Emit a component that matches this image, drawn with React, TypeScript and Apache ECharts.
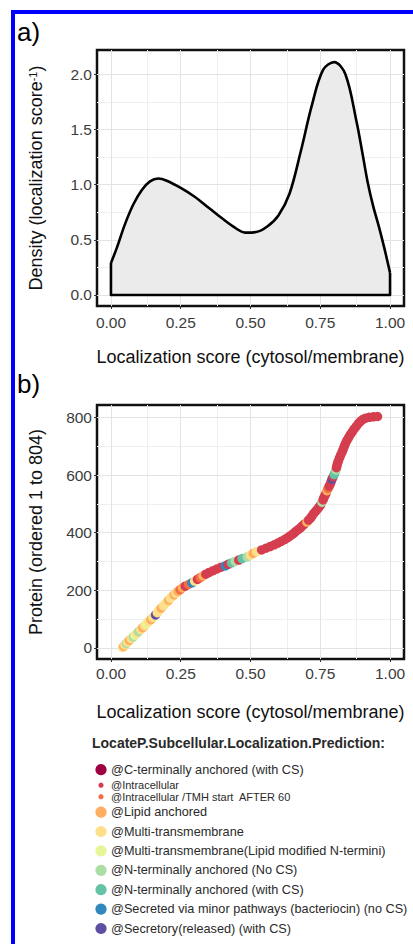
import React, { useEffect, useRef } from "react";
import * as echarts from "echarts";

// ---------- data ----------
const densityScore = [0, 0.02, 0.05, 0.08, 0.11, 0.14, 0.17, 0.2, 0.25, 0.3, 0.35, 0.4, 0.45, 0.48, 0.52, 0.56, 0.6, 0.64, 0.68, 0.72, 0.76, 0.8, 0.84, 0.88, 0.9, 0.92, 0.94, 0.96, 0.98, 1.0];
const densityValue = [0.29, 0.42, 0.64, 0.82, 0.95, 1.03, 1.055, 1.035, 0.97, 0.89, 0.79, 0.69, 0.6, 0.565, 0.57, 0.62, 0.72, 0.92, 1.3, 1.72, 2.04, 2.11, 2.0, 1.57, 1.3, 1.02, 0.8, 0.62, 0.42, 0.2];

const scoreTicks = [0, 0.25, 0.5, 0.75, 1];
const scoreMinor = [0.125, 0.375, 0.625, 0.875];
const densityTicks = [0, 0.5, 1, 1.5, 2];
const densityMinor = [0.25, 0.75, 1.25, 1.75];
const rankTicks = [0, 200, 400, 600, 800];
const rankMinor = [100, 300, 500, 700];

const classes = [
  "@C-terminally anchored (with CS)",
  "@Intracellular",
  "@Intracellular /TMH start  AFTER 60",
  "@Lipid anchored",
  "@Multi-transmembrane",
  "@Multi-transmembrane(Lipid modified N-termini)",
  "@N-terminally anchored (No CS)",
  "@N-terminally anchored (with CS)",
  "@Secreted via minor pathways (bacteriocin) (no CS)",
  "@Secretory(released) (with CS)",
];
const classColors = ["#9e0142", "#d53e4f", "#f46d43", "#fdae61", "#fee08b", "#e6f598", "#abdda4", "#66c2a5", "#3288bd", "#5e4fa2"];

const proteinRank = [
  1, 5, 10, 15, 20, 26, 32, 38, 44, 50, 56, 63, 70, 77, 84, 91, 98, 106, 114, 122, 130, 138, 146, 154,
  160, 166, 172, 178, 184, 190, 196, 202, 208, 214, 220, 226, 232, 238, 244, 250, 256, 262, 268, 274,
  280, 285, 290, 295, 300, 305, 310, 316, 322, 328, 334, 340, 346, 352, 358, 364, 370, 376, 382, 388,
  394, 400, 406, 412, 418, 424, 430, 437, 444, 451, 458, 466, 474, 482, 490, 498, 506, 514, 522, 530,
  538, 546, 554, 562, 570, 578, 586, 594, 602, 610, 618, 626, 634, 642, 650, 660, 670, 680, 690, 700,
  710, 720, 730, 740, 750, 760, 770, 780, 788, 794, 798, 801, 803, 804,
];
const proteinScore = [
  0.042, 0.046, 0.05, 0.055, 0.06, 0.066, 0.073, 0.08, 0.086, 0.093, 0.099, 0.107, 0.114, 0.121, 0.128, 0.135, 0.143, 0.15, 0.16, 0.166, 0.172, 0.18, 0.188, 0.196,
  0.202, 0.207, 0.213, 0.219, 0.226, 0.233, 0.24, 0.248, 0.256, 0.266, 0.278, 0.29, 0.3, 0.31, 0.32, 0.33, 0.34, 0.352, 0.366, 0.38,
  0.395, 0.41, 0.42, 0.432, 0.445, 0.458, 0.47, 0.488, 0.5, 0.51, 0.522, 0.54, 0.555, 0.57, 0.585, 0.598, 0.61, 0.622, 0.632, 0.641,
  0.65, 0.658, 0.664, 0.672, 0.68, 0.686, 0.693, 0.702, 0.708, 0.715, 0.72, 0.726, 0.733, 0.74, 0.746, 0.752, 0.756, 0.76, 0.763, 0.767,
  0.771, 0.774, 0.778, 0.782, 0.786, 0.789, 0.792, 0.796, 0.8, 0.803, 0.806, 0.808, 0.81, 0.812, 0.815, 0.819, 0.823, 0.828, 0.832, 0.836,
  0.84, 0.845, 0.851, 0.857, 0.864, 0.871, 0.879, 0.887, 0.895, 0.903, 0.912, 0.925, 0.94, 0.955,
];
const proteinClass = [
  4, 3, 4, 6, 4, 3, 4, 6, 5, 4, 6, 4, 3, 4, 5, 4, 3, 4, 9, 4, 4, 3, 4, 4,
  4, 3, 4, 4, 3, 4, 3, 2, 3, 1, 2, 8, 4, 1, 2, 3, 1, 1, 1, 1,
  1, 8, 1, 7, 6, 1, 7, 6, 4, 3, 4, 1, 1, 1, 1, 1, 1, 1, 1, 1,
  1, 1, 1, 1, 1, 1, 1, 3, 1, 1, 1, 1, 1, 1, 1, 1, 6, 1, 1, 1,
  1, 3, 2, 1, 1, 1, 9, 1, 7, 7, 6, 1, 1, 1, 1, 1, 1, 1, 1, 1,
  1, 1, 1, 1, 1, 1, 1, 1, 1, 1, 1, 1, 1, 1,
];

// ---------- style ----------
const FONT = "'Liberation Sans', Arial, sans-serif";
const legendSmall = [false, true, true, false, false, false, false, false, false, false];

export default function App() {
  const ref = useRef<HTMLDivElement>(null);

  useEffect(() => {
    if (!ref.current) return;
    const chart = echarts.init(ref.current, undefined, { renderer: "svg" });

    const gridLines = (vals: number[], axis: "xAxis" | "yAxis", color: string) =>
      vals.map((v) => ({ [axis]: v, lineStyle: { color, width: 1, type: "solid" } }));

    const xAxisCfg = (gridIndex: number, labelMargin: number, nameGap: number) => ({
      type: "value",
      gridIndex,
      min: -0.05,
      max: 1.05,
      axisLine: { show: false, onZero: false },
      axisTick: { show: true, length: 3, customValues: scoreTicks, lineStyle: { color: "#333", width: 1 } },
      axisLabel: {
        customValues: scoreTicks,
        formatter: (v: number) => v.toFixed(2),
        fontSize: 15.5,
        color: "#3c3c3c",
        margin: labelMargin,
        fontFamily: FONT,
      },
      splitLine: { show: false },
      name: "Localization score (cytosol/membrane)",
      nameLocation: "middle",
      nameGap,
      nameTextStyle: { fontSize: 18, color: "#111", fontFamily: FONT },
    });

    const yAxisCfg = (gridIndex: number, min: number, max: number, ticks: number[], fmt: (v: number) => string, name: string, rich?: any) => ({
      type: "value",
      gridIndex,
      min,
      max,
      axisLine: { show: false, onZero: false },
      axisTick: { show: true, length: 3, customValues: ticks, lineStyle: { color: "#333", width: 1 } },
      axisLabel: { customValues: ticks, formatter: fmt, fontSize: 15.5, color: "#3c3c3c", margin: 5, fontFamily: FONT },
      splitLine: { show: false },
      name,
      nameLocation: "middle",
      nameGap: 52,
      nameTextStyle: { fontSize: 18, color: "#111", fontFamily: FONT, rich },
    });

    const legendGraphics: any[] = [];
    let cursor = 760;
    classes.forEach((label, i) => {
      const h = legendSmall[i] ? 11.5 : 19.4;
      const cy = cursor + h / 2;
      cursor += h;
      legendGraphics.push({
        type: "circle",
        shape: { cx: 101, cy, r: legendSmall[i] ? 2.6 : 5.6 },
        style: { fill: classColors[i] },
      });
      legendGraphics.push({
        type: "text",
        x: 111,
        y: cy,
        style: { text: label, fontSize: legendSmall[i] ? 11 : 12.7, fontFamily: FONT, fill: "#2a2a2a", verticalAlign: "middle", align: "left" },
      });
    });

    const option: any = {
      animation: false,
      backgroundColor: "#ffffff",
      grid: [
        { left: 97, top: 50, width: 307, height: 256, show: true, borderColor: "#111", borderWidth: 2.5, backgroundColor: "transparent" },
        { left: 97, top: 405, width: 307, height: 254, show: true, borderColor: "#111", borderWidth: 2.5, backgroundColor: "transparent" },
      ],
      xAxis: [xAxisCfg(0, 8, 42), xAxisCfg(1, 6, 44)],
      yAxis: [
        yAxisCfg(0, -0.1, 2.22, densityTicks, (v) => v.toFixed(1), "Density (localization score{sup|-1})", {
          sup: { fontSize: 11, verticalAlign: "top", color: "#111", fontFamily: FONT },
        }),
        yAxisCfg(1, -39, 844, rankTicks, (v) => String(v), "Protein (ordered 1 to 804)"),
      ],
      series: [
        {
          type: "line",
          xAxisIndex: 0,
          yAxisIndex: 0,
          data: [],
          z: 1,
          markLine: {
            silent: true,
            symbol: "none",
            label: { show: false },
            data: [
              ...gridLines(scoreMinor, "xAxis", "#efefef"),
              ...gridLines(densityMinor, "yAxis", "#efefef"),
              ...gridLines(scoreTicks, "xAxis", "#e3e3e3"),
              ...gridLines(densityTicks, "yAxis", "#e3e3e3"),
            ],
          },
        },
        {
          type: "line",
          xAxisIndex: 1,
          yAxisIndex: 1,
          data: [],
          z: 1,
          markLine: {
            silent: true,
            symbol: "none",
            label: { show: false },
            data: [
              ...gridLines(scoreMinor, "xAxis", "#efefef"),
              ...gridLines(rankMinor, "yAxis", "#efefef"),
              ...gridLines(scoreTicks, "xAxis", "#e3e3e3"),
              ...gridLines(rankTicks, "yAxis", "#e3e3e3"),
            ],
          },
        },
        {
          type: "line",
          xAxisIndex: 0,
          yAxisIndex: 0,
          z: 10,
          smooth: 0.35,
          symbol: "none",
          data: densityScore.map((x, i) => [x, densityValue[i]]),
          lineStyle: { color: "#000", width: 2.6 },
          areaStyle: { color: "#ebebeb", opacity: 1, origin: 0 },
        },
        {
          type: "line",
          xAxisIndex: 0,
          yAxisIndex: 0,
          z: 11,
          symbol: "none",
          data: [
            [densityScore[densityScore.length - 1], densityValue[densityValue.length - 1]],
            [densityScore[densityScore.length - 1], 0],
            [densityScore[0], 0],
            [densityScore[0], densityValue[0]],
          ],
          lineStyle: { color: "#000", width: 2.6, join: "round" },
        },
        {
          type: "scatter",
          xAxisIndex: 1,
          yAxisIndex: 1,
          z: 10,
          symbolSize: 9.5,
          data: proteinRank.map((r, i) => ({
            value: [proteinScore[i], r],
            itemStyle: { color: classColors[proteinClass[i]], opacity: 1 },
          })),
        },
      ],
      graphic: [
        { type: "rect", shape: { x: 11, y: 10, width: 4, height: 934 }, style: { fill: "#0000ff" } },
        { type: "rect", shape: { x: 11, y: 10, width: 402, height: 4 }, style: { fill: "#0000ff" } },
        { type: "text", x: 17, y: 32, style: { text: "a)", fontSize: 26, fontFamily: FONT, fill: "#000", verticalAlign: "middle" } },
        { type: "text", x: 17, y: 384, style: { text: "b)", fontSize: 26, fontFamily: FONT, fill: "#000", verticalAlign: "middle" } },
        {
          type: "text",
          x: 92,
          y: 743,
          style: {
            text: "LocateP.Subcellular.Localization.Prediction:",
            fontSize: 14,
            fontWeight: "bold",
            fontFamily: FONT,
            fill: "#2a2a2a",
            verticalAlign: "middle",
          },
        },
        ...legendGraphics,
      ],
    };

    chart.setOption(option);
    return () => chart.dispose();
  }, []);

  return <div ref={ref} style={{ position: "fixed", left: 0, top: 0, width: 413, height: 944, background: "#fff" }} />;
}
